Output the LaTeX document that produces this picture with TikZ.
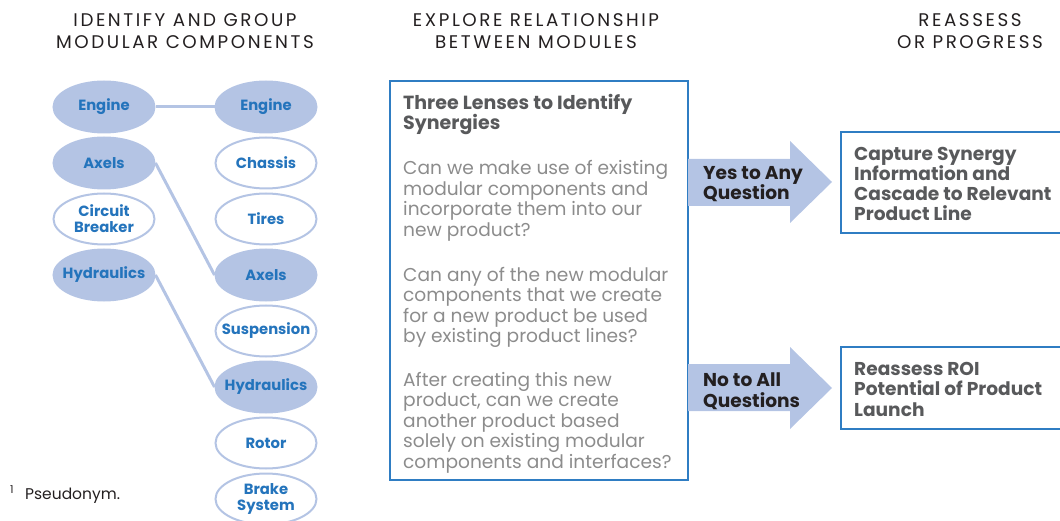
\documentclass[tikz,border=0pt]{standalone}
\usepackage{fontspec}
\setmainfont{Poppins}
\newfontfamily\headfont[LetterSpace=14]{Poppins}
\usetikzlibrary{shapes.geometric,backgrounds}
\definecolor{lensblue}{HTML}{B4C4E4}
\definecolor{partblue}{HTML}{2474BC}
\definecolor{frameblue}{HTML}{2F7DC3}
\definecolor{titlegray}{HTML}{58595B}
\definecolor{bodygray}{HTML}{8C8C8C}
\definecolor{headdark}{HTML}{231F20}

\begin{document}
\begin{tikzpicture}[x=1pt,y=-1pt,
  part/.style={ellipse,draw=lensblue,line width=2pt,fill=white,minimum width=101pt,minimum height=51pt,inner xsep=-10pt,inner ysep=0pt,align=center,text=partblue,font=\fontsize{14.8}{16}\selectfont\bfseries},
  shared/.style={part,fill=lensblue},
  link/.style={draw=lensblue,line width=3pt},
  heading/.style={anchor=base,align=center,text=headdark,font=\fontsize{18.3}{21.7}\headfont},
  lens/.style={anchor=base west,align=left,inner sep=0pt,text=bodygray,font=\fontsize{18.6}{20.5}\selectfont},
  lenstitle/.style={lens,text=titlegray,font=\fontsize{19}{20.5}\selectfont\bfseries},
  answer/.style={anchor=base west,align=left,inner sep=0pt,text=headdark,font=\fontsize{18.6}{20.5}\selectfont\bfseries},
  outcome/.style={anchor=base west,align=left,inner sep=0pt,text=titlegray,font=\fontsize{18.6}{20.3}\selectfont\bfseries},
  frame/.style={draw=frameblue,line width=1.3pt}]
\useasboundingbox (0,0) rectangle (1060,521);
\clip (0,0) rectangle (1060,521);

\node[heading] (h1) at (185,48.3) {IDENTIFY AND GROUP\\MODULAR COMPONENTS};
\node[heading] (h2) at (536,48.3) {EXPLORE RELATIONSHIP\\BETWEEN MODULES};
\node[heading] (h3) at (970,48.3) {REASSESS\\OR PROGRESS};

\node[shared] (lengine) at (104,107) {Engine};
\node[shared] (laxels) at (104,163) {Axels};
\node[part] (lbreaker) at (104,219) {Circuit\\Breaker};
\node[shared] (lhydr) at (104,275) {Hydraulics};

\node[shared] (rengine) at (266,107) {Engine};
\node[part] (rchassis) at (266,163) {Chassis};
\node[part] (rtires) at (266,219) {Tires};
\node[shared] (raxels) at (266,275) {Axels};
\node[part] (rsusp) at (266,331) {Suspension};
\node[shared] (rhydr) at (266,387) {Hydraulics};
\node[part] (rrotor) at (266,443) {Rotor};
\node[part] (rbrake) at (266,499) {Brake\\System};

\begin{scope}[on background layer]
\draw[link] (lengine.east) -- (rengine.west);
\draw[link] (laxels.east) -- (raxels.west);
\draw[link] (lhydr.east) -- (rhydr.west);
\end{scope}

\draw[frame] (390,81) rectangle (688,480);
\node[lenstitle] (t0) at (403,130) {Three Lenses to Identify\\Synergies};
\node[lens] (t1) at (403,236.5) {Can we make use of existing\\modular components and\\incorporate them into our\\new product?};
\node[lens] (t2) at (403,342.5) {Can any of the new modular\\components that we create\\for a new product be used\\by existing product lines?};
\node[lens] (t3) at (403,468) {After creating this new\\product, can we create\\another product based\\solely on existing modular\\components and interfaces?};

\fill[lensblue] (688,159) -- (790,159) -- (790,141) -- (832,182) -- (790,223) -- (790,206) -- (688,206) -- cycle;
\fill[lensblue] (688,364) -- (790,364) -- (790,347) -- (832,388) -- (790,429) -- (790,411) -- (688,411) -- cycle;
\node[answer] (yes) at (703,200) {Yes to Any\\Question};
\node[answer] (no) at (703,407) {No to All\\Questions};

\draw[frame] (1070,132) -- (841,132) -- (841,233) -- (1070,233);
\draw[frame] (1070,347) -- (841,347) -- (841,429) -- (1070,429);
\node[outcome] (capture) at (854,221) {Capture Synergy\\Information and\\Cascade to Relevant\\Product Line};
\node[outcome] (roi) at (854,416) {Reassess ROI\\Potential of Product\\Launch};

\node[anchor=base west,inner sep=0pt,text=headdark,font=\fontsize{15.5}{16}\selectfont] (note) at (10,499) {\textsuperscript{1}\hspace{11pt}Pseudonym.};
\end{tikzpicture}
\end{document}
